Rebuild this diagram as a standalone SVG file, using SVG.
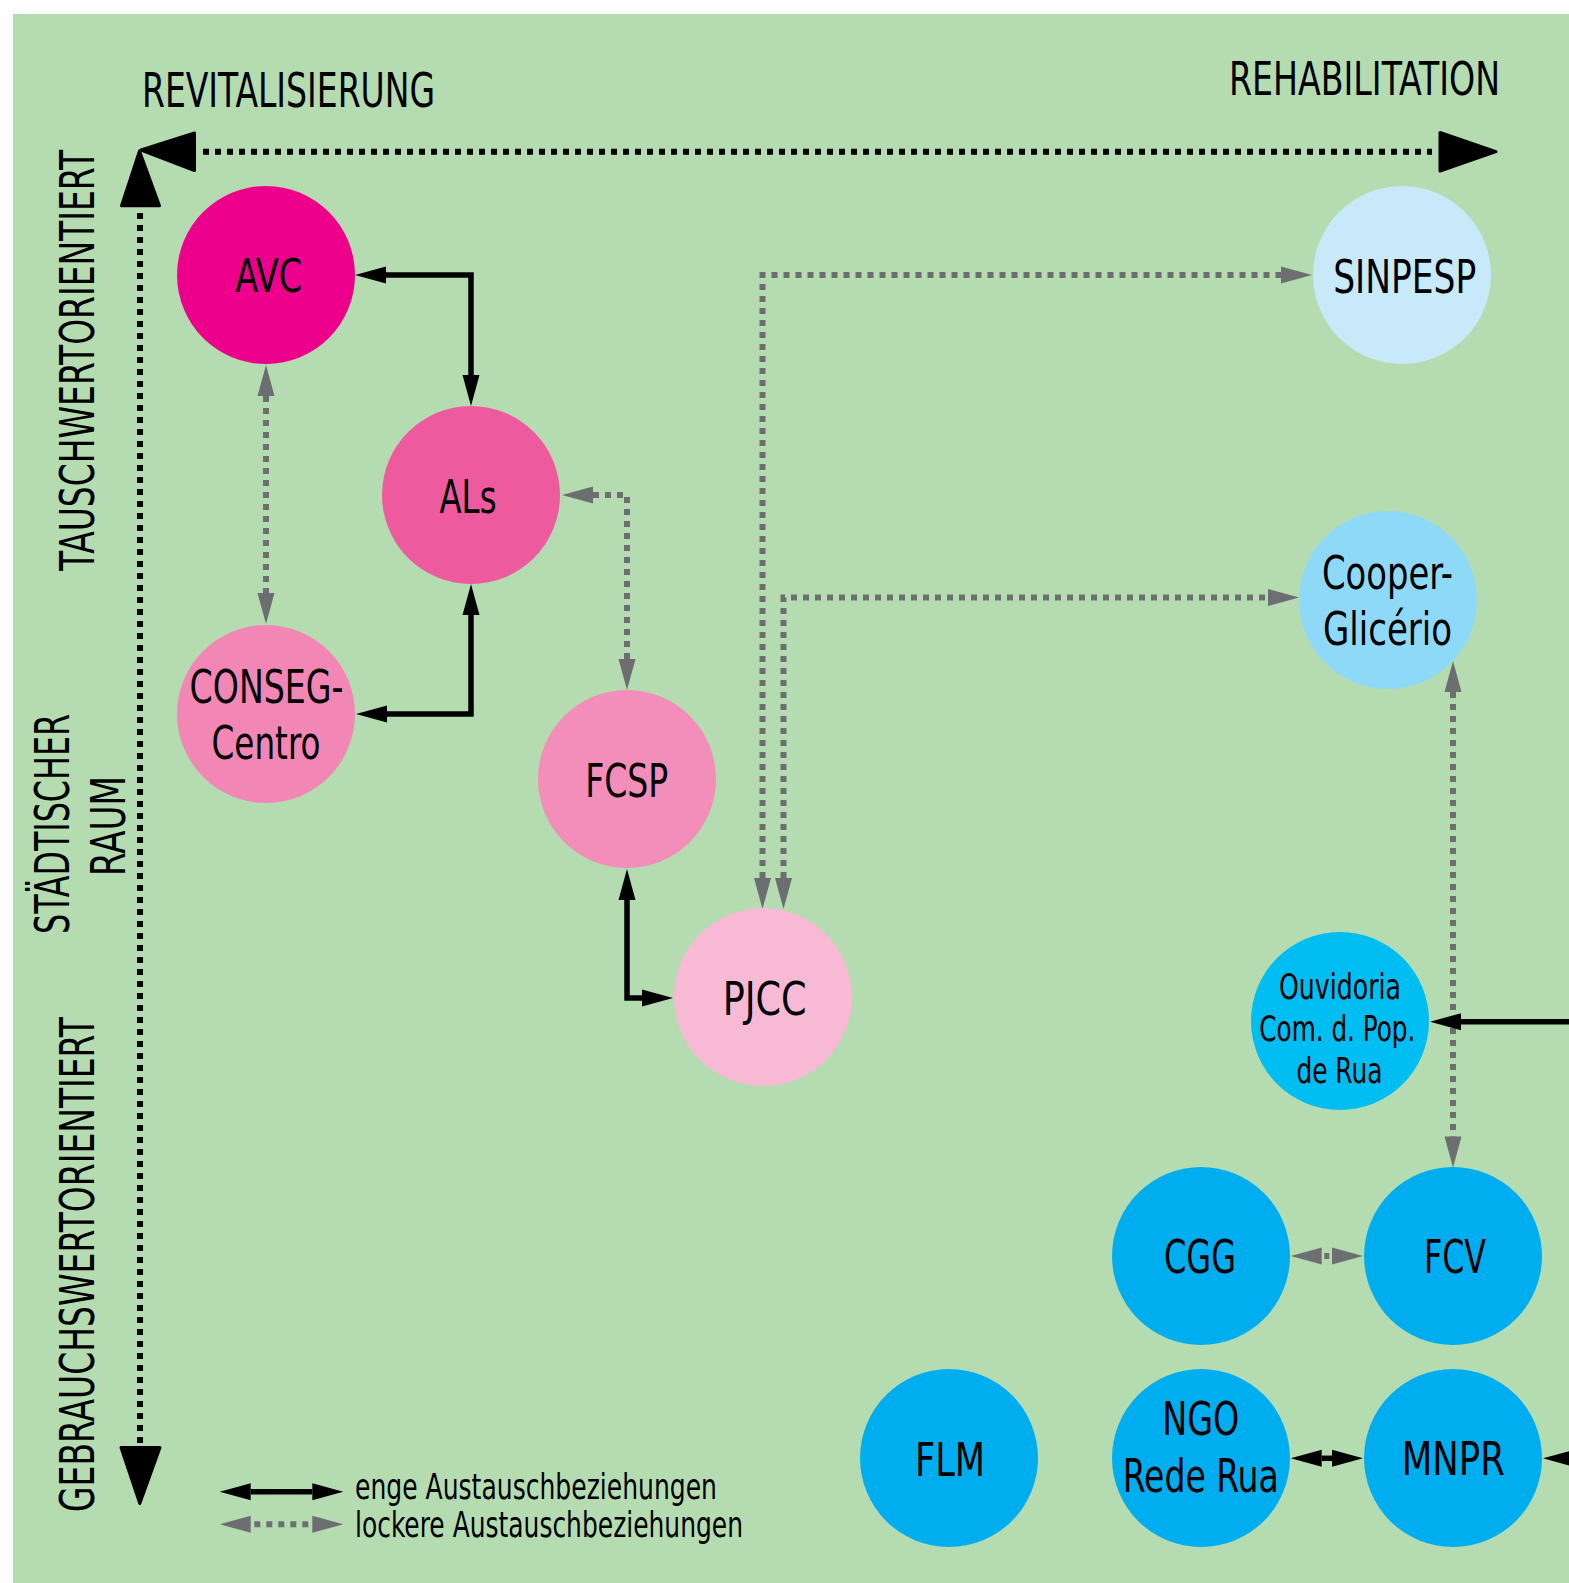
<svg xmlns="http://www.w3.org/2000/svg" width="1569" height="1583" viewBox="0 0 1569 1583">
<defs>
<style>
text{font-family:"Liberation Sans Narrow","DejaVu Sans Condensed","Liberation Sans",sans-serif;font-stretch:condensed;fill:#000;}
.axis{font-size:48px;}
.lbl{font-size:46px;text-anchor:middle;}
.sml{font-size:36px;text-anchor:middle;}
.leg{font-size:35px;}
.tight{fill:none;stroke:#000;stroke-width:5.5;marker-start:url(#ahk);marker-end:url(#ahk);}
.loose{fill:none;stroke:#6D6E71;stroke-width:6;stroke-dasharray:6 6;marker-start:url(#ahg);marker-end:url(#ahg);}
.axl{fill:none;stroke:#000;stroke-width:6;stroke-dasharray:6 6;}
.axh{fill:#000;stroke:#000;stroke-width:3;stroke-linejoin:round;}
</style>
<marker id="ahk" markerUnits="userSpaceOnUse" markerWidth="40" markerHeight="24" refX="0" refY="0" orient="auto-start-reverse" overflow="visible"><path d="M0,-8.5 L31,0 L0,8.5 z" fill="#000"/></marker>
<marker id="ahg" markerUnits="userSpaceOnUse" markerWidth="40" markerHeight="24" refX="0" refY="0" orient="auto-start-reverse" overflow="visible"><path d="M0,-8.5 L31,0 L0,8.5 z" fill="#6D6E71"/></marker>
</defs>
<rect x="0" y="0" width="1569" height="1583" fill="#fff"/>
<rect x="13" y="14" width="1556" height="1569" fill="#B4DCB0"/>

<g id="axes">
<path class="axl" d="M203,151.7 H1432"/>
<path class="axl" d="M140,213 V1444"/>
<polygon class="axh" points="141,150 194.5,133 194.5,170.5"/>
<polygon class="axh" points="139.5,151 121.5,205.8 159.5,205.8"/>
<polygon class="axh" points="1440,132.5 1496,151.7 1440,171"/>
<polygon class="axh" points="121,1447.5 160,1447.5 139.8,1503.5"/>
<text class="axis" x="142" y="106.7" textLength="293" lengthAdjust="spacingAndGlyphs">REVITALISIERUNG</text>
<text class="axis" x="1500" y="95" text-anchor="end" style="font-size:46px" textLength="271" lengthAdjust="spacingAndGlyphs">REHABILITATION</text>
<text class="axis" transform="translate(94,571) rotate(-90)" textLength="421" lengthAdjust="spacingAndGlyphs">TAUSCHWERTORIENTIERT</text>
<text class="axis" transform="translate(93.5,1512) rotate(-90)" textLength="495" lengthAdjust="spacingAndGlyphs">GEBRAUCHSWERTORIENTIERT</text>
<text class="axis" text-anchor="middle" transform="translate(68.5,824) rotate(-90)" textLength="220" lengthAdjust="spacingAndGlyphs">STÄDTISCHER</text>
<text class="axis" text-anchor="middle" transform="translate(125,826) rotate(-90)" textLength="100" lengthAdjust="spacingAndGlyphs">RAUM</text>
</g>

<g id="connectors">
<path class="tight" d="M386,275 H471 V375"/>
<path class="tight" d="M471,615 V714 H387"/>
<path class="loose" d="M266,396 V593"/>
<path class="loose" d="M593,495 H627 V659"/>
<path class="tight" d="M627,900 V998 H642"/>
<path class="loose" d="M762.5,878 V275 H1281"/>
<path class="loose" d="M783.5,878 V597.5 H1268"/>
<path class="loose" d="M1453,692 V1136.5"/>
<path class="tight" d="M1569,1021.7 H1461" style="marker-start:none"/>
<path class="loose" d="M1321.7,1256 H1332" style="stroke-dasharray:0 2.6 5 10"/>
<path class="tight" d="M1321.7,1458.3 H1332"/>
<path class="tight" d="M1600,1458.3 H1574" style="marker-start:none"/>
</g>

<g id="legend">
<path class="tight" d="M250.7,1491.7 H312.3"/>
<path class="loose" d="M250.7,1524.3 H312.3" style="stroke-dashoffset:-3.6"/>
<text class="leg" x="355" y="1499" textLength="362" lengthAdjust="spacingAndGlyphs">enge Austauschbeziehungen</text>
<text class="leg" x="355" y="1536.5" textLength="388" lengthAdjust="spacingAndGlyphs">lockere Austauschbeziehungen</text>
</g>

<g id="node-AVC"><circle cx="266" cy="275" r="89" fill="#EC008C"/><text class="lbl" x="268.7" y="291.7" textLength="67" lengthAdjust="spacingAndGlyphs">AVC</text></g>
<g id="node-ALs"><circle cx="471" cy="495" r="89" fill="#EE5A9E"/><text class="lbl" x="468" y="512.5" textLength="57" lengthAdjust="spacingAndGlyphs">ALs</text></g>
<g id="node-CONSEG"><circle cx="266" cy="714" r="89" fill="#F287B6"/><text class="lbl" x="266.6" y="702.7" textLength="154" lengthAdjust="spacingAndGlyphs">CONSEG-</text><text class="lbl" x="266" y="759" textLength="109" lengthAdjust="spacingAndGlyphs">Centro</text></g>
<g id="node-FCSP"><circle cx="627" cy="779" r="89" fill="#F38DB9"/><text class="lbl" x="626.7" y="796.7" textLength="83" lengthAdjust="spacingAndGlyphs">FCSP</text></g>
<g id="node-PJCC"><circle cx="763" cy="997" r="89" fill="#F8B9D4"/><text class="lbl" x="764.7" y="1014.7" textLength="84" lengthAdjust="spacingAndGlyphs">PJCC</text></g>
<g id="node-SINPESP"><circle cx="1402" cy="275" r="89" fill="#C7E9F9"/><text class="lbl" x="1404.7" y="293.3" textLength="143" lengthAdjust="spacingAndGlyphs">SINPESP</text></g>
<g id="node-CooperGlicerio"><circle cx="1388" cy="600" r="89" fill="#8ED9F8"/><text class="lbl" x="1387.4" y="588.6" textLength="131" lengthAdjust="spacingAndGlyphs">Cooper-</text><text class="lbl" x="1387.5" y="645.4" textLength="129" lengthAdjust="spacingAndGlyphs">Glicério</text></g>
<g id="node-Ouvidoria"><circle cx="1340" cy="1021" r="89" fill="#00BDF2"/><text class="sml" x="1340" y="999" textLength="122" lengthAdjust="spacingAndGlyphs">Ouvidoria</text><text class="sml" x="1337.3" y="1041" textLength="156" lengthAdjust="spacingAndGlyphs">Com. d. Pop.</text><text class="sml" x="1339.4" y="1083" textLength="86" lengthAdjust="spacingAndGlyphs">de Rua</text></g>
<g id="node-CGG"><circle cx="1201" cy="1256" r="89" fill="#00AEEF"/><text class="lbl" x="1200" y="1273.3" textLength="72" lengthAdjust="spacingAndGlyphs">CGG</text></g>
<g id="node-FCV"><circle cx="1453" cy="1256" r="89" fill="#00AEEF"/><text class="lbl" x="1455" y="1273.3" textLength="62" lengthAdjust="spacingAndGlyphs">FCV</text></g>
<g id="node-NGO"><circle cx="1201" cy="1458" r="89" fill="#00AEEF"/><text class="lbl" x="1200.8" y="1435" textLength="77" lengthAdjust="spacingAndGlyphs">NGO</text><text class="lbl" x="1200.8" y="1491.7" textLength="156" lengthAdjust="spacingAndGlyphs">Rede Rua</text></g>
<g id="node-MNPR"><circle cx="1453" cy="1458" r="89" fill="#00AEEF"/><text class="lbl" x="1453.3" y="1475" textLength="103" lengthAdjust="spacingAndGlyphs">MNPR</text></g>
<g id="node-FLM"><circle cx="949" cy="1458" r="89" fill="#00AEEF"/><text class="lbl" x="950" y="1476" textLength="70" lengthAdjust="spacingAndGlyphs">FLM</text></g>
</svg>
